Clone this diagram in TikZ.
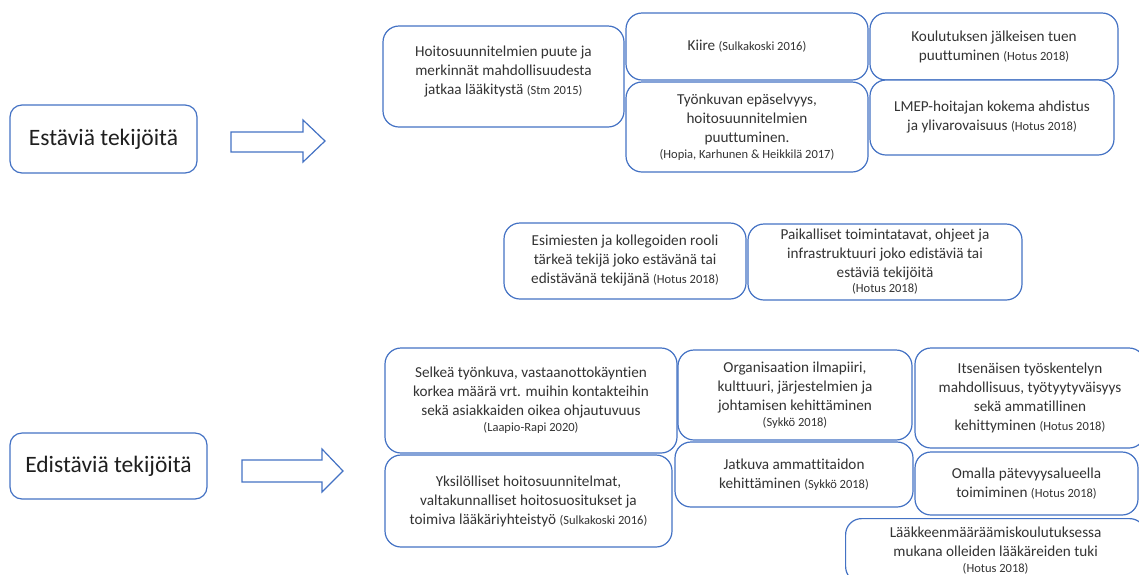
\documentclass[tikz,border=0pt]{standalone}
\usepackage{fontspec}
\setmainfont{Carlito}[Ligatures=NoCommon]
\definecolor{boxblue}{HTML}{4472C4}
\definecolor{txt}{HTML}{333333}
\newcommand\cit[1]{{\fontsize{12.5}{14}\selectfont #1}}
\tikzset{
  box/.style={draw=boxblue, line width=1.2pt, rounded corners=16pt, fill=white,
    align=center, text=txt, inner sep=0.5pt,
    font=\fontsize{15.2}{19}\selectfont},
  headbox/.style={box, rounded corners=12pt, font=\fontsize{23.5}{28}\selectfont, text=black!88},
  blockarrow/.style={draw=boxblue, line width=1.2pt, fill=white, line join=miter},
}
\begin{document}
\begin{tikzpicture}[x=1pt,y=-1pt]
\useasboundingbox (0,0) rectangle (1139,574);

% group headings
\node[headbox, minimum width=187, minimum height=68] (est) at (103.5,139) {Estäviä tekijöitä};
\node[headbox, minimum width=197, minimum height=66] (edis) at (108.5,466) {Edistäviä tekijöitä};

% block arrows pointing at the groups
\draw[blockarrow] (231,132) -- (303,132) -- (303,120) -- (325,141) -- (303,162) -- (303,152) -- (231,152) -- cycle;
\draw[blockarrow] (242,460) -- (322,460) -- (322,449) -- (343,471) -- (322,492) -- (322,482) -- (242,482) -- cycle;

% hindering factors
\node[box, minimum width=241, minimum height=101] (hoito) at (503.5,76.5)
  {Hoitosuunnitelmien puute ja\\ merkinnät mahdollisuudesta\\ jatkaa lääkitystä \cit{(Stm 2015)}\\[-6pt]\mbox{}};
\node[box, minimum width=242, minimum height=67] (kiire) at (747,46.5)
  {Kiire \cit{(Sulkakoski 2016)}};
\node[box, minimum width=242, minimum height=90] (tyon) at (747,127)
  {Työnkuvan epäselvyys,\\ hoitosuunnitelmien\\ puuttuminen.\\[-3pt] \cit{(Hopia, Karhunen \& Heikkilä 2017)}};
\node[box, minimum width=248, minimum height=67] (koul) at (994,46.5)
  {Koulutuksen jälkeisen tuen\\ puuttuminen \cit{(Hotus 2018)}};
\node[box, minimum width=244, minimum height=75] (lmep) at (992,117.5)
  {LMEP-hoitajan kokema ahdistus\\ ja ylivarovaisuus \cit{(Hotus 2018)}};

% factors working either way
\node[box, minimum width=242, minimum height=76] (esim) at (625,261)
  {Esimiesten ja kollegoiden rooli\\ tärkeä tekijä joko estävänä tai\\ edistävänä tekijänä \cit{(Hotus 2018)}};
\node[box, minimum width=274, minimum height=76] (paik) at (885,262)
  {Paikalliset toimintatavat, ohjeet ja\\ infrastruktuuri joko edistäviä tai\\ estäviä tekijöitä\\[-4pt] \cit{(Hotus 2018)}};

% promoting factors
\node[box, minimum width=292, minimum height=105] (selk) at (531,400.5)
  {Selkeä työnkuva, vastaanottokäyntien\\ korkea määrä vrt. muihin kontakteihin\\ sekä asiakkaiden oikea ohjautuvuus\\[-3pt] \cit{(Laapio-Rapi 2020)}};
\node[box, minimum width=234, minimum height=90] (org) at (795,395)
  {Organisaation ilmapiiri,\\ kulttuuri, järjestelmien ja\\ johtamisen kehittäminen\\[-3pt] \cit{(Sykkö 2018)}};
\node[box, minimum width=287, minimum height=92] (yks) at (528.5,501)
  {Yksilölliset hoitosuunnitelmat,\\ valtakunnalliset hoitosuositukset ja\\ toimiva lääkäriyhteistyö \cit{(Sulkakoski 2016)}};
\node[box, minimum width=238, minimum height=65] (jatk) at (794,474.5)
  {Jatkuva ammattitaidon\\ kehittäminen \cit{(Sykkö 2018)}};
\node[box, minimum width=230, minimum height=100] (its) at (1030,398)
  {Itsenäisen työskentelyn\\ mahdollisuus, työtyytyväisyys\\ sekä ammatillinen\\ kehittyminen \cit{(Hotus 2018)}};
\node[box, minimum width=223, minimum height=63] (omal) at (1026.5,483.5)
  {Omalla pätevyysalueella\\ toimiminen \cit{(Hotus 2018)}};
\node[box, minimum width=300, minimum height=64, anchor=north west] (laak) at (845,518)
  {Lääkkeenmääräämiskoulutuksessa\\ mukana olleiden lääkäreiden tuki\\[-3pt] \cit{(Hotus 2018)}};
\end{tikzpicture}
\end{document}
